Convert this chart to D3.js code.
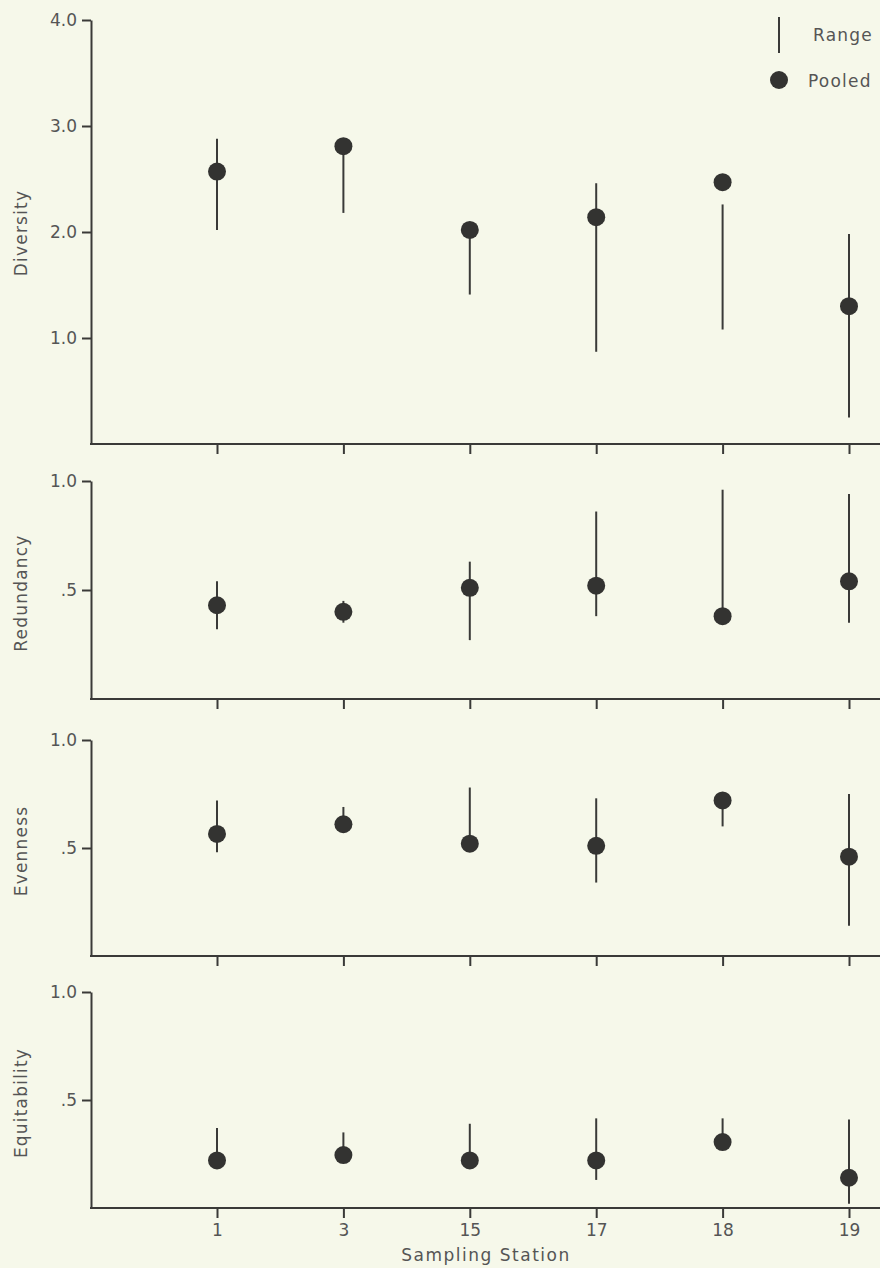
<!DOCTYPE html>
<html>
<head>
<meta charset="utf-8">
<script src="https://cdn.jsdelivr.net/npm/d3@7"></script>
<style>
  html, body { margin: 0; padding: 0; background: #f6f8ea; }
  svg { display: block; }
  text { font-family: "DejaVu Sans", "Noto Sans", sans-serif; fill: #555; }
</style>
</head>
<body>
<svg id="chart" width="880" height="1268"></svg>
<script>
// ---- data ----
const stations = ["1", "3", "15", "17", "18", "19"];

const diversityPooled = [2.57, 2.81, 2.02, 2.14, 2.47, 1.30];
const diversityMin    = [2.02, 2.18, 1.41, 0.87, 1.08, 0.25];
const diversityMax    = [2.88, 2.81, 2.02, 2.46, 2.26, 1.98];

const redundancyPooled = [0.43, 0.40, 0.51, 0.52, 0.38, 0.54];
const redundancyMin    = [0.32, 0.35, 0.27, 0.38, 0.38, 0.35];
const redundancyMax    = [0.54, 0.45, 0.63, 0.86, 0.96, 0.94];

const evennessPooled = [0.565, 0.61, 0.52, 0.51, 0.72, 0.46];
const evennessMin    = [0.48, 0.60, 0.52, 0.34, 0.60, 0.14];
const evennessMax    = [0.72, 0.69, 0.78, 0.73, 0.72, 0.75];

const equitabilityPooled = [0.22, 0.245, 0.22, 0.22, 0.305, 0.14];
const equitabilityMin    = [0.22, 0.245, 0.22, 0.13, 0.305, 0.02];
const equitabilityMax    = [0.37, 0.35, 0.39, 0.415, 0.415, 0.41];

const diversityTicks = [1, 2, 3, 4];
const diversityTickLabels = ["1.0", "2.0", "3.0", "4.0"];
const unitTicks = [0.5, 1.0];
const unitTickLabels = [".5", "1.0"];

const xAxisTitle = "Sampling Station";
const legendLabels = ["Range", "Pooled"];

// ---- layout ----
const svg = d3.select("#chart");
const axisX = 91, rightEdge = 880;
const ink = "#3a3a38";

const x = d3.scalePoint().domain(stations).range([217, 849]);

const panels = [
  { label: "Diversity",    pooled: diversityPooled,    min: diversityMin,    max: diversityMax,
    domain: [0, 4], top: 20,  bottom: 444, ticks: diversityTicks, tickLabels: diversityTickLabels, labelY: 233 },
  { label: "Redundancy",   pooled: redundancyPooled,   min: redundancyMin,   max: redundancyMax,
    domain: [0, 1], top: 481, bottom: 699, ticks: unitTicks, tickLabels: unitTickLabels, labelY: 593 },
  { label: "Evenness",     pooled: evennessPooled,     min: evennessMin,     max: evennessMax,
    domain: [0, 1], top: 740, bottom: 956, ticks: unitTicks, tickLabels: unitTickLabels, labelY: 851 },
  { label: "Equitability", pooled: equitabilityPooled, min: equitabilityMin, max: equitabilityMax,
    domain: [0, 1], top: 992, bottom: 1208, ticks: unitTicks, tickLabels: unitTickLabels, labelY: 1103 }
];

panels.forEach((p, pi) => {
  const y = d3.scaleLinear().domain(p.domain).range([p.bottom, p.top]);
  const g = svg.append("g");

  // y axis
  const yAxis = d3.axisLeft(y)
    .tickValues(p.ticks)
    .tickFormat((d, i) => p.tickLabels[i])
    .tickSize(9).tickSizeOuter(0).tickPadding(5);
  const ya = g.append("g").attr("transform", `translate(${axisX},0)`).call(yAxis);
  ya.select(".domain").attr("stroke", ink).attr("stroke-width", 2);
  ya.selectAll(".tick line").attr("stroke", ink).attr("stroke-width", 2);
  ya.selectAll(".tick text").attr("font-size", 17).attr("fill", "#555")
    .attr("font-family", "DejaVu Sans, sans-serif");

  // x axis baseline
  g.append("line")
    .attr("x1", axisX - 1).attr("x2", rightEdge)
    .attr("y1", p.bottom).attr("y2", p.bottom)
    .attr("stroke", ink).attr("stroke-width", 2);

  const xAxis = d3.axisBottom(x).tickSize(10).tickSizeOuter(0).tickPadding(6)
    .tickFormat(pi === panels.length - 1 ? (d => d) : () => "");
  const xa = g.append("g").attr("transform", `translate(0,${p.bottom})`).call(xAxis);
  xa.select(".domain").remove();
  xa.selectAll(".tick line").attr("stroke", ink).attr("stroke-width", 2);
  xa.selectAll(".tick text").attr("font-size", 17).attr("fill", "#555")
    .attr("font-family", "DejaVu Sans, sans-serif");

  // y label
  g.append("text")
    .attr("transform", `translate(27,${p.labelY}) rotate(-90)`)
    .attr("text-anchor", "middle")
    .attr("font-size", 17)
    .attr("letter-spacing", 1.2)
    .text(p.label);

  // range lines
  g.selectAll("line.range").data(stations).enter().append("line")
    .attr("class", "range")
    .attr("x1", d => x(d)).attr("x2", d => x(d))
    .attr("y1", (d, i) => y(p.min[i])).attr("y2", (d, i) => y(p.max[i]))
    .attr("stroke", ink).attr("stroke-width", 2);

  // pooled dots
  g.selectAll("circle.pooled").data(stations).enter().append("circle")
    .attr("class", "pooled")
    .attr("cx", d => x(d))
    .attr("cy", (d, i) => y(p.pooled[i]))
    .attr("r", 9)
    .attr("fill", "#333331");
});

// x axis title
svg.append("text")
  .attr("x", 486).attr("y", 1261)
  .attr("text-anchor", "middle")
  .attr("font-size", 17)
  .attr("letter-spacing", 1.5)
  .text(xAxisTitle);

// legend
const lg = svg.append("g");
lg.append("line").attr("x1", 779).attr("x2", 779).attr("y1", 17).attr("y2", 53)
  .attr("stroke", ink).attr("stroke-width", 2);
lg.append("text").attr("x", 813).attr("y", 41).attr("font-size", 17)
  .attr("letter-spacing", 1.2).text(legendLabels[0]);
lg.append("circle").attr("cx", 779).attr("cy", 80).attr("r", 9).attr("fill", "#333331");
lg.append("text").attr("x", 808).attr("y", 87).attr("font-size", 17)
  .attr("letter-spacing", 1.2).text(legendLabels[1]);
</script>
</body>
</html>
